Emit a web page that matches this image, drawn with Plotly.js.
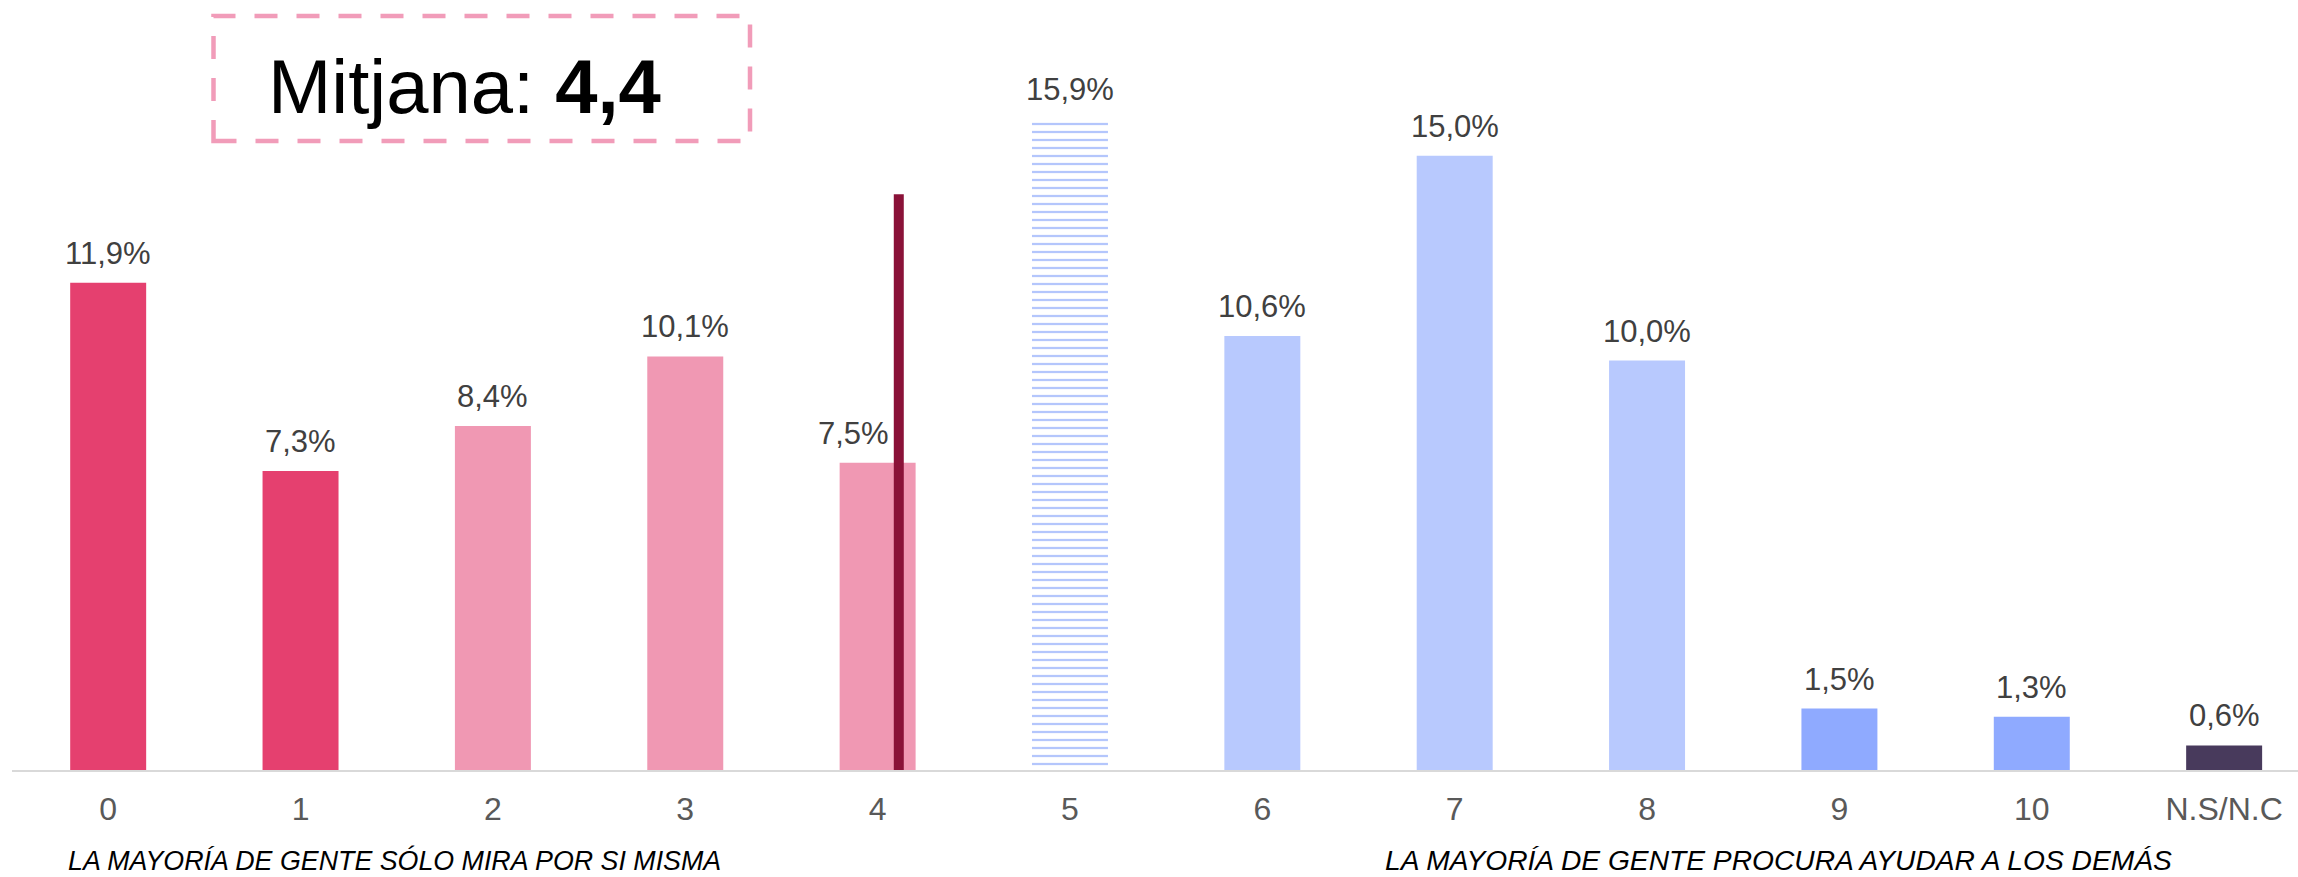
<!DOCTYPE html>
<html>
<head>
<meta charset="utf-8">
<script src="https://cdn.plot.ly/plotly-3.0.1.min.js"></script>
<style>
  html, body { margin: 0; padding: 0; background: #ffffff; }
  #chart { width: 2298px; height: 877px; }
</style>
</head>
<body>
<div id="chart"></div>
<script>
// ---- data ----
const categories = ['0', '1', '2', '3', '4', '5', '6', '7', '8', '9', '10', 'N.S/N.C'];
const percentages = [11.9, 7.3, 8.4, 10.1, 7.5, 15.9, 10.6, 15.0, 10.0, 1.5, 1.3, 0.6];
const valueLabels = ['11,9%', '7,3%', '8,4%', '10,1%', '7,5%', '15,9%', '10,6%', '15,0%', '10,0%', '1,5%', '1,3%', '0,6%'];
const barColors = ['#E5406F', '#E5406F', '#F098B3', '#F098B3', '#F098B3', '#B4C6FC',
                   '#B8C9FE', '#B8C9FE', '#B8C9FE', '#8FAAFF', '#8FAAFF', '#483A5C'];
const barPatterns = ['', '', '', '', '', '-', '', '', '', '', '', ''];
const meanLabel = '4,4';
const meanLinePosition = 4.11;   // where the marker line sits on the category axis
const meanLineHeight = 14.06;    // top of the marker line, in %
const leftPoleLabel = 'LA MAYORÍA DE GENTE SÓLO MIRA POR SI MISMA';
const rightPoleLabel = 'LA MAYORÍA DE GENTE PROCURA AYUDAR A LOS DEMÁS';

// ---- layout constants ----
const W = 2298, H = 877;
const ML = 12, MB = 107, MT = 0, MR = 0;
const plotW = W - ML - MR, plotH = H - MT - MB;
const pxPerUnit = 40.95;
const catSpacing = 192.36;
const xMax = -0.5 + plotW / catSpacing;
const yMax = plotH / pxPerUnit;
const px2paperX = px => (px - ML) / plotW;
const px2paperY = py => (H - MB - py) / plotH;
const labelNudgeX = { 4: -24 };   // the label next to the mean line is pushed left

const FONT = 'Arial, "Liberation Sans", Helvetica, sans-serif';

const solidIdx = categories.map((c, i) => i).filter(i => barPatterns[i] === '');
const patternIdx = categories.map((c, i) => i).filter(i => barPatterns[i] !== '');

const solidTrace = {
  type: 'bar',
  x: solidIdx.map(i => categories[i]),
  y: solidIdx.map(i => percentages[i]),
  width: solidIdx.map(() => 0.395),
  marker: { color: solidIdx.map(i => barColors[i]), line: { width: 0 } },
  hoverinfo: 'none'
};

const patternTrace = {
  type: 'bar',
  x: patternIdx.map(i => categories[i]),
  y: patternIdx.map(i => percentages[i]),
  width: patternIdx.map(() => 0.395),
  marker: {
    color: '#FFFFFF',
    line: { width: 0 },
    pattern: {
      shape: '-',
      fgcolor: barColors[patternIdx[0]],
      bgcolor: '#FFFFFF',
      fillmode: 'replace',
      size: 8,
      solidity: 0.28
    }
  },
  hoverinfo: 'none'
};

const annotations = categories.map((c, i) => ({
  x: c, y: percentages[i], xref: 'x', yref: 'y',
  text: valueLabels[i], showarrow: false,
  yanchor: 'bottom', xanchor: 'center', yshift: 10,
  xshift: labelNudgeX[i] || 0,
  font: { family: FONT, size: 31, color: '#404040' }
}));

annotations.push({
  x: px2paperX(464), y: px2paperY(87), xref: 'paper', yref: 'paper',
  text: 'Mitjana: <b>' + meanLabel + '</b>', showarrow: false,
  xanchor: 'center', yanchor: 'middle',
  font: { family: FONT, size: 76, color: '#000000' }
});
annotations.push({
  x: px2paperX(394), y: px2paperY(877), xref: 'paper', yref: 'paper',
  text: '<i>' + leftPoleLabel + '</i>', showarrow: false,
  xanchor: 'center', yanchor: 'bottom', borderpad: 0,
  font: { family: FONT, size: 26.8, color: '#000000' }
});
annotations.push({
  x: px2paperX(1778), y: px2paperY(877), xref: 'paper', yref: 'paper',
  text: '<i>' + rightPoleLabel + '</i>', showarrow: false,
  xanchor: 'center', yanchor: 'bottom', borderpad: 0,
  font: { family: FONT, size: 28.2, color: '#000000' }
});

const shapes = [
  {
    type: 'line', xref: 'x', yref: 'y',
    x0: meanLinePosition, x1: meanLinePosition, y0: 0, y1: meanLineHeight,
    line: { color: '#8A1238', width: 10 }, layer: 'above'
  },
  {
    type: 'rect', xref: 'paper', yref: 'paper',
    x0: px2paperX(213.5), x1: px2paperX(750),
    y0: px2paperY(141), y1: px2paperY(16),
    line: { color: '#F19CB9', width: 4.5, dash: '23px,19px' },
    fillcolor: 'rgba(0,0,0,0)'
  }
];

const layout = {
  width: W, height: H,
  margin: { l: ML, r: MR, t: MT, b: MB, pad: 0 },
  paper_bgcolor: '#FFFFFF',
  plot_bgcolor: '#FFFFFF',
  showlegend: false,
  barmode: 'overlay',
  xaxis: {
    type: 'category',
    categoryorder: 'array',
    categoryarray: categories,
    range: [-0.5, xMax],
    showgrid: false, zeroline: false,
    showline: true, linecolor: '#D9D9D9', linewidth: 2,
    ticks: 'outside', ticklen: 10, tickcolor: 'rgba(0,0,0,0)',
    tickfont: { family: FONT, size: 32, color: '#595959' },
    fixedrange: true
  },
  yaxis: {
    range: [0, yMax],
    visible: false,
    showgrid: false, zeroline: false,
    fixedrange: true
  },
  annotations: annotations,
  shapes: shapes
};

Plotly.newPlot('chart', [solidTrace, patternTrace], layout, { displayModeBar: false, staticPlot: true });
</script>
</body>
</html>
